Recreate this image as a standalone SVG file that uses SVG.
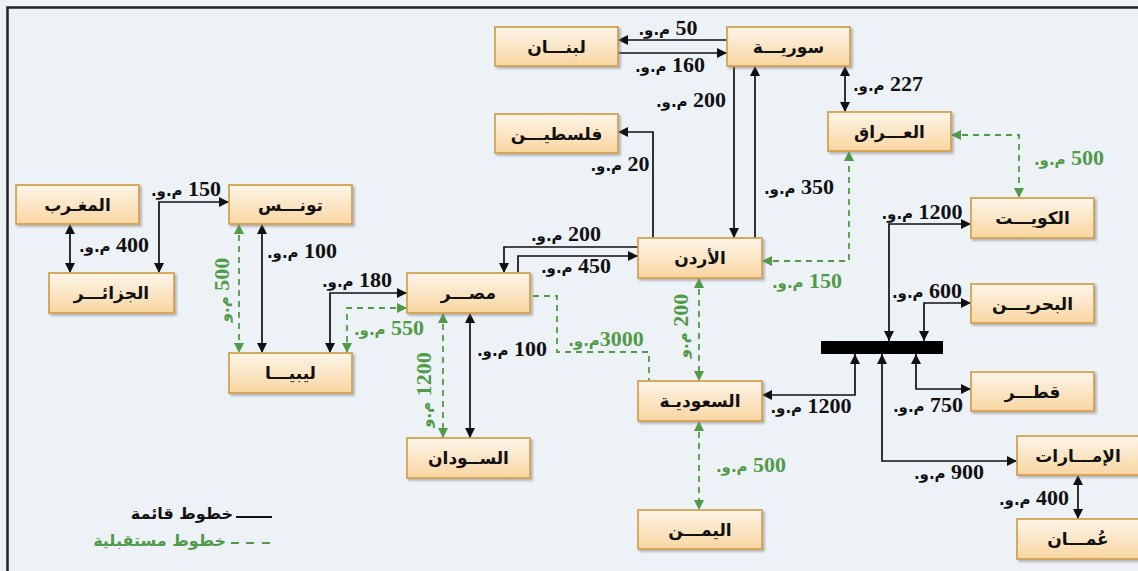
<svg xmlns="http://www.w3.org/2000/svg" width="1138" height="571" viewBox="0 0 1138 571">
<style>
.box{fill:url(#g);stroke:#D4A253;stroke-width:1.8;filter:url(#sh)}
.nt{font-family:"DejaVu Sans",sans-serif;font-weight:bold;font-size:17px;fill:#111;text-anchor:middle}
.c{fill:none;stroke:#111;stroke-width:1.7;marker-end:url(#ab);marker-start:url(#ab)}
.c1{fill:none;stroke:#111;stroke-width:1.7;marker-end:url(#ab)}
.gd{fill:none;stroke:#519A47;stroke-width:1.8;stroke-dasharray:6 5;marker-end:url(#ag);marker-start:url(#ag)}
.gn{fill:none;stroke:#519A47;stroke-width:1.8;stroke-dasharray:6 5}
.lb{font-family:"Liberation Serif","DejaVu Sans",serif;font-weight:bold;font-size:22px;fill:#111;text-anchor:middle;direction:rtl;unicode-bidi:embed}
.lb tspan{font-family:"DejaVu Sans",sans-serif;font-size:15px}
.gl{fill:#519A47}
.lg{font-family:"DejaVu Sans",sans-serif;font-weight:bold;font-size:16px;text-anchor:end}
</style>
<defs>
<linearGradient id="g" x1="0" y1="0" x2="0" y2="1">
<stop offset="0" stop-color="#FDF5E9"/>
<stop offset="1" stop-color="#F9D6A1"/>
</linearGradient>
<filter id="sh" x="-10%" y="-20%" width="125%" height="150%">
<feDropShadow dx="2" dy="2" stdDeviation="1.3" flood-color="#7a7a7a" flood-opacity="0.5"/>
</filter>
<marker id="ab" viewBox="0 0 10 10" refX="10" refY="5" markerWidth="11" markerHeight="10" markerUnits="userSpaceOnUse" orient="auto-start-reverse">
<path d="M0,0 L10,5 L0,10 z" fill="#111"/>
</marker>
<marker id="ag" viewBox="0 0 10 10" refX="10" refY="5" markerWidth="10" markerHeight="10" markerUnits="userSpaceOnUse" orient="auto-start-reverse">
<path d="M0,0 L10,5 L0,10 z" fill="#519A47"/>
</marker>
</defs>
<rect x="0" y="0" width="1138" height="571" fill="#EDF2F7"/>
<rect x="7.5" y="7.5" width="1145" height="580" fill="#EDF2F7" stroke="#222" stroke-width="2.5"/>

<g id="connectors">
<path class="c1" d="M727,40 H618"/>
<path class="c1" d="M618,53 H727"/>
<path class="c1" d="M734,66 V238"/>
<path class="c1" d="M755,238 V66"/>
<path class="c1" d="M653,238 V132 H618"/>
<path class="c" d="M845,66 V112"/>
<path class="c1" d="M638,247 H504 V273"/>
<path class="c1" d="M518,273 V256 H638"/>
<path class="c" d="M70,224 V273"/>
<path class="c" d="M159,273 V202 H229"/>
<path class="c" d="M262,224 V353"/>
<path class="gd" d="M239,224 V353"/>
<path class="c" d="M330,353 V293 H407"/>
<path class="gd" d="M347,353 V308 H407"/>
<path class="c" d="M470,313 V438"/>
<path class="gd" d="M443,313 V438"/>
<path class="gn" d="M533,296 H557 V352 H649 V381"/>
<path class="gd" d="M699,278 V381"/>
<path class="gd" d="M762,261 H849 V151"/>
<path class="gd" d="M951,135 H1019 V198"/>
<path class="c" d="M762,395 H855 V354"/>
<path class="c" d="M971,224 H889 V341"/>
<path class="c" d="M971,303 H924 V341"/>
<path class="c" d="M971,389 H916 V354"/>
<path class="c" d="M1017,461 H882 V354"/>
<path class="c" d="M1078,475 V519"/>
<path class="gd" d="M699,421 V510"/>
<rect id="bar" x="821" y="341" width="122" height="13" fill="#000"/>
</g>

<g id="labels">
<text class="lb" x="668" y="35">50 <tspan>م.و.</tspan></text>
<text class="lb" x="670" y="72">160 <tspan>م.و.</tspan></text>
<text class="lb" x="691" y="107">200 <tspan>م.و.</tspan></text>
<text class="lb" x="799" y="194">350 <tspan>م.و.</tspan></text>
<text class="lb" x="620" y="171">20 <tspan>م.و.</tspan></text>
<text class="lb" x="888" y="91">227 <tspan>م.و.</tspan></text>
<text class="lb" x="566" y="241">200 <tspan>م.و.</tspan></text>
<text class="lb" x="576" y="273">450 <tspan>م.و.</tspan></text>
<text class="lb" x="114" y="252">400 <tspan>م.و.</tspan></text>
<text class="lb" x="186" y="196">150 <tspan>م.و.</tspan></text>
<text class="lb" x="302" y="258">100 <tspan>م.و.</tspan></text>
<text class="lb" x="357" y="287">180 <tspan>م.و.</tspan></text>
<text class="lb gl" x="389" y="335">550 <tspan>م.و.</tspan></text>
<text class="lb" x="512" y="356">100 <tspan>م.و.</tspan></text>
<text class="lb gl" x="606" y="346">3000<tspan>م.و.</tspan></text>
<text class="lb gl" x="807" y="288">150 <tspan>م.و.</tspan></text>
<text class="lb gl" x="1069" y="165">500 <tspan>م.و.</tspan></text>
<text class="lb" x="922" y="219">1200 <tspan>م.و.</tspan></text>
<text class="lb" x="927" y="298">600 <tspan>م.و.</tspan></text>
<text class="lb" x="811" y="413">1200 <tspan>م.و.</tspan></text>
<text class="lb" x="928" y="412">750 <tspan>م.و.</tspan></text>
<text class="lb" x="949" y="479">900 <tspan>م.و.</tspan></text>
<text class="lb" x="1034" y="505">400 <tspan>م.و.</tspan></text>
<text class="lb gl" x="751" y="472">500 <tspan>م.و.</tspan></text>
<text class="lb gl" transform="translate(229,290) rotate(-90)">500 <tspan>م.و</tspan></text>
<text class="lb gl" transform="translate(431,390) rotate(-90)">1200 <tspan>م.و</tspan></text>
<text class="lb gl" transform="translate(688,326) rotate(-90)">200 <tspan>م.و</tspan></text>
</g>

<g id="n-lebanon"><rect class="box" x="495" y="27" width="123" height="39"/><text class="nt" x="556.5" y="52.5">لبنـــان</text></g>
<g id="n-syria"><rect class="box" x="727" y="27" width="123" height="39"/><text class="nt" x="788.5" y="52.5">سوريـــة</text></g>
<g id="n-palestine"><rect class="box" x="495" y="114" width="123" height="39"/><text class="nt" x="556.5" y="139.5">فلسطيـــن</text></g>
<g id="n-iraq"><rect class="box" x="828" y="112" width="123" height="39"/><text class="nt" x="889.5" y="137.5">العـــراق</text></g>
<g id="n-kuwait"><rect class="box" x="971" y="198" width="123" height="40"/><text class="nt" x="1032.5" y="224">الكويـــت</text></g>
<g id="n-bahrain"><rect class="box" x="971" y="284" width="123" height="39"/><text class="nt" x="1032.5" y="309.5">البحريـــن</text></g>
<g id="n-qatar"><rect class="box" x="971" y="372" width="123" height="39"/><text class="nt" x="1032.5" y="397.5">قطـــر</text></g>
<g id="n-uae"><rect class="box" x="1017" y="436" width="122" height="39"/><text class="nt" x="1078" y="461.5">الإمـــارات</text></g>
<g id="n-oman"><rect class="box" x="1017" y="519" width="122" height="40"/><text class="nt" x="1078" y="545">عُمـــان</text></g>
<g id="n-morocco"><rect class="box" x="16" y="185" width="123" height="39"/><text class="nt" x="77.5" y="210.5">المغـرب</text></g>
<g id="n-tunisia"><rect class="box" x="229" y="185" width="123" height="39"/><text class="nt" x="290.5" y="210.5">تونـــس</text></g>
<g id="n-algeria"><rect class="box" x="49" y="273" width="125" height="40"/><text class="nt" x="111.5" y="299">الجزائـــر</text></g>
<g id="n-libya"><rect class="box" x="229" y="353" width="123" height="40"/><text class="nt" x="290.5" y="379">ليبيـــا</text></g>
<g id="n-egypt"><rect class="box" x="407" y="273" width="123" height="40"/><text class="nt" x="468.5" y="299">مصـــر</text></g>
<g id="n-jordan"><rect class="box" x="638" y="238" width="124" height="40"/><text class="nt" x="700" y="264">الأردن</text></g>
<g id="n-saudi"><rect class="box" x="638" y="381" width="124" height="40"/><text class="nt" x="700" y="407">السعوديـة</text></g>
<g id="n-sudan"><rect class="box" x="407" y="438" width="123" height="40"/><text class="nt" x="468.5" y="464">الســودان</text></g>
<g id="n-yemen"><rect class="box" x="638" y="510" width="124" height="39"/><text class="nt" x="700" y="535.5">اليمـــن</text></g>

<g id="legend">
<line x1="236" y1="517" x2="272" y2="517" stroke="#111" stroke-width="2"/>
<text class="lg" x="233" y="519" fill="#111">خطوط قائمة</text>
<path d="M231,543 H239 M246,543 H254 M262,543 H270" stroke="#519A47" stroke-width="2"/>
<text class="lg" x="226" y="546" fill="#519A47">خطوط مستقبلية</text>
</g>
</svg>
